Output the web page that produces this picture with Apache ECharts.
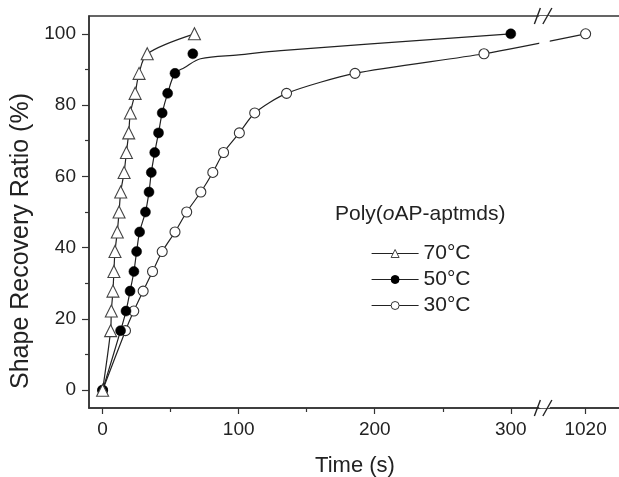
<!DOCTYPE html>
<html>
<head>
<meta charset="utf-8">
<script src="https://cdn.jsdelivr.net/npm/echarts@6/dist/echarts.min.js"></script>
<style>html,body{margin:0;padding:0;background:#fff}#c{width:619px;height:477px}</style>
</head>
<body>
<div id="c"></div>
<script>
// ---- data ----
const ratioSteps = [0, 16.7, 22.2, 27.8, 33.3, 38.9, 44.4, 50, 55.6, 61.1, 66.7, 72.2, 77.8, 83.3, 88.9, 94.4, 100];
const time70 = [0, 5.9, 6.4, 7.6, 8.3, 9.1, 10.8, 12.1, 13.3, 15.8, 17.5, 19.2, 20.4, 23.9, 26.8, 32.8, 67.5];
const time50 = [0, 13.2, 17.2, 20.2, 23, 25, 27.2, 31.5, 34.1, 35.8, 38.3, 41.1, 43.8, 47.8, 53.2, 66.3, 300];
const time30 = [0, 16.8, 22.9, 29.8, 36.7, 43.8, 53.2, 61.8, 72.2, 81, 88.9, 100.5, 111.8, 135.2, 185.5, 280.3, 1020];
// fitted curve drawn through the 50°C data
const curve50X = [0, 13.2, 17.2, 20.2, 23, 25, 27.2, 31.5, 34.1, 35.8, 38.3, 41.1, 43.8, 47.8, 53.2, 60, 72, 100, 131, 300];
const curve50Y = [0, 16.7, 22.2, 27.8, 33.3, 38.9, 44.4, 50, 55.6, 61.1, 66.7, 72.2, 77.8, 83.3, 88.9, 90.5, 93, 94.1, 95.3, 100];
const seriesNames = ['70°C', '50°C', '30°C'];
const xTickMajor = [0, 100, 200, 300, 1020];
const xTickMinor = [50, 150, 250];
const xLabels = [0, 100, 200, 300, 1020];
const yLabels = [0, 20, 40, 60, 80, 100];
const yTickMinor = [10, 30, 50, 70, 90];
const xBreak = { start: 321, end: 993, gap: 7 };

const pairs = (xs, ys) => xs.map((x, i) => [x, ys[i]]);
const FONT = 'Liberation Sans, Arial, sans-serif';
const INK = '#222';

const breakCfg = {
  breaks: [Object.assign({}, xBreak)],
  breakArea: {
    show: true, expandOnClick: false, zigzagAmplitude: 0, zigzagZ: 100,
    itemStyle: { color: '#fff', borderColor: '#fff', borderWidth: 0, opacity: 1 }
  },
  breakLabelLayout: { moveOverlap: false }
};

const chart = echarts.init(document.getElementById('c'), null, { renderer: 'canvas' });
const lineStyle = { color: INK, width: 1.2 };
const option = {
  animation: false,
  backgroundColor: '#fff',
  textStyle: { fontFamily: FONT },
  title: {
    left: 335, top: 204, padding: 0,
    text: '{n|Poly(}{i|o}{n|AP-aptmds)}',
    textStyle: {
      fontWeight: 'normal',
      rich: {
        n: { fontSize: 21, fontFamily: FONT, color: INK, fontWeight: 'normal' },
        i: { fontSize: 21, fontFamily: FONT, color: INK, fontStyle: 'italic', fontWeight: 'normal' }
      }
    }
  },
  legend: {
    orient: 'vertical', left: 371, top: 243, padding: 0,
    itemWidth: 47, itemHeight: 10, itemGap: 5,
    data: seriesNames,
    selectedMode: false,
    itemStyle: { borderWidth: 1 },
    lineStyle: { width: 1.2 },
    textStyle: { fontSize: 21, fontFamily: FONT, color: INK }
  },
  grid: {
    left: 89, top: 16, right: -2, bottom: 69,
    outerBoundsMode: 'none', containLabel: false,
    show: true, borderColor: '#333', borderWidth: 1.5, backgroundColor: 'transparent'
  },
  xAxis: [
    Object.assign({
      type: 'value', min: -10, max: 1046,
      name: 'Time (s)', nameLocation: 'middle', nameGap: 47,
      nameTextStyle: { fontSize: 22, fontFamily: FONT, color: INK },
      splitLine: { show: false },
      axisLine: { show: true, onZero: false, lineStyle: { color: '#333', width: 1.5 } },
      axisTick: { show: true, inside: false, length: 6, customValues: xTickMajor, lineStyle: { color: '#333', width: 1.2 } },
      axisLabel: { customValues: xLabels, fontSize: 19, fontFamily: FONT, color: INK, margin: 12,
        formatter: function (v) { return String(v); } }
    }, breakCfg),
    Object.assign({
      type: 'value', min: -10, max: 1046, position: 'bottom',
      splitLine: { show: false },
      axisLine: { show: false, onZero: false },
      axisTick: { show: true, inside: false, length: 4, customValues: xTickMinor, lineStyle: { color: '#333', width: 1.2 } },
      axisLabel: { show: false, customValues: xTickMinor }
    }, breakCfg)
  ],
  yAxis: [
    {
      type: 'value', min: -5, max: 105,
      name: 'Shape Recovery Ratio (%)', nameLocation: 'middle', nameGap: 54,
      nameTextStyle: { fontSize: 25, fontFamily: FONT, color: INK, padding: [0, 58, 0, 0] },
      splitLine: { show: false },
      axisLine: { show: true, onZero: false, lineStyle: { color: '#333', width: 1.5 } },
      axisTick: { show: true, inside: false, length: 7, customValues: yLabels, lineStyle: { color: '#333', width: 1.2 } },
      axisLabel: { customValues: yLabels, fontSize: 19, fontFamily: FONT, color: INK, margin: 13 }
    },
    {
      type: 'value', min: -5, max: 105, position: 'left',
      splitLine: { show: false },
      axisLine: { show: false, onZero: false },
      axisTick: { show: true, inside: false, length: 4, customValues: yTickMinor, lineStyle: { color: '#333', width: 1.2 } },
      axisLabel: { show: false, customValues: yTickMinor }
    }
  ],
  series: [
    { name: '30°C', type: 'line', data: pairs(time30, ratioSteps), smooth: 0.25, showSymbol: false,
      symbol: 'circle', symbolSize: 9, lineStyle, itemStyle: { color: '#fff', borderColor: '#333', borderWidth: 1 }, z: 2 },
    { name: '50°C', type: 'line', data: pairs(curve50X, curve50Y), smooth: 0.35, showSymbol: false,
      symbol: 'circle', symbolSize: 9, lineStyle, itemStyle: { color: '#000', borderColor: '#000', borderWidth: 1 }, z: 2 },
    { name: '70°C', type: 'line', data: pairs(time70, ratioSteps), smooth: 0.3, showSymbol: false,
      symbol: 'triangle', symbolSize: 11, lineStyle, itemStyle: { color: '#fff', borderColor: '#444', borderWidth: 1 }, z: 2 },
    { name: '30°C pts', type: 'scatter', data: pairs(time30, ratioSteps), symbol: 'circle', symbolSize: 10,
      itemStyle: { color: '#fff', borderColor: '#333', borderWidth: 1.1, opacity: 1 }, z: 3 },
    { name: '50°C pts', type: 'scatter', data: pairs(time50, ratioSteps), symbol: 'circle', symbolSize: 10,
      itemStyle: { color: '#000', borderColor: '#000', borderWidth: 0.5, opacity: 1 }, z: 3 },
    { name: '70°C pts', type: 'scatter', data: pairs(time70, ratioSteps), symbol: 'triangle', symbolSize: 12,
      itemStyle: { color: '#fff', borderColor: '#444', borderWidth: 1.1, opacity: 1 }, z: 4 }
  ]
};
chart.setOption(option);

// break marks "//" on top and bottom frame lines
const bx0 = chart.convertToPixel({ xAxisIndex: 0 }, xBreak.start);
const bx1 = chart.convertToPixel({ xAxisIndex: 0 }, xBreak.end);
const gr = chart.getModel().getComponent('grid', 0).coordinateSystem.getRect();
const marks = [];
[gr.y, gr.y + gr.height].forEach(function (yy) {
  marks.push({ type: 'line', shape: { x1: bx0 - 5, y1: yy + 8, x2: bx0 + 1, y2: yy - 8 }, style: { stroke: '#222', lineWidth: 1.4 }, z: 200 });
  marks.push({ type: 'line', shape: { x1: bx1 - 6, y1: yy + 8, x2: bx1 + 3, y2: yy - 8 }, style: { stroke: '#222', lineWidth: 1.4 }, z: 200 });
});
chart.setOption({ graphic: marks });
</script>
</body>
</html>
